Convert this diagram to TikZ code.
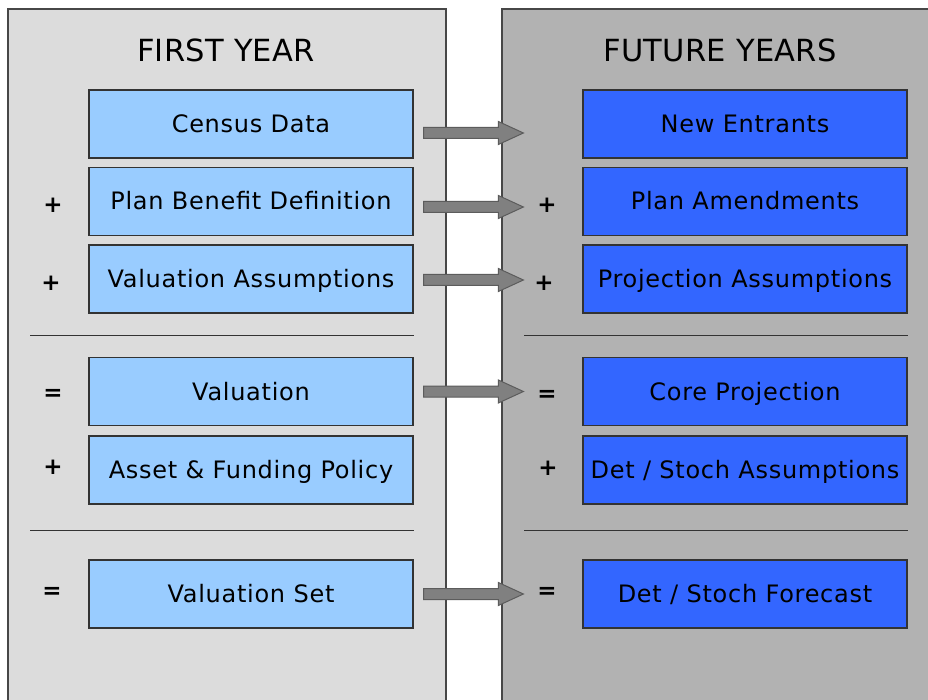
\documentclass[tikz,border=0pt]{standalone}
\usepackage{fontspec}
\setmainfont{DejaVu Sans}
\usetikzlibrary{calc}
\definecolor{panelL}{HTML}{DCDCDC}
\definecolor{panelR}{HTML}{B2B2B2}
\definecolor{boxL}{HTML}{99CCFF}
\definecolor{boxR}{HTML}{3366FF}
\definecolor{edgec}{HTML}{333333}
\definecolor{arrowc}{HTML}{808080}
\begin{document}
\begin{tikzpicture}[x=1pt,y=-1pt,
  panel/.style={draw=edgec!90, line width=1.2pt},
  boxbase/.style={draw=edgec, line width=1.2pt, minimum width=324pt, minimum height=68pt,
    inner sep=0pt, font=\fontsize{24}{28}\selectfont\addfontfeatures{LetterSpace=3}, text height=17pt, text depth=0pt},
  lbox/.style={boxbase, fill=boxL},
  rbox/.style={boxbase, fill=boxR},
  title/.style={anchor=base, font=\fontsize{30.5}{36}\selectfont\addfontfeatures{LetterSpace=1}},
  opmark/.style={font=\fontsize{23}{28}\bfseries, inner sep=0pt},
  sep/.style={draw=edgec, line width=1pt},
  fatarrow/.style={draw=edgec!80, fill=arrowc, line width=1pt, line join=miter,
    to path={(\tikztostart) -- ++(0,-5.5) -- ($(\tikztotarget)+(-25,-5.5)$) -- ($(\tikztotarget)+(-25,-11.5)$)
      -- (\tikztotarget) -- ($(\tikztotarget)+(-25,11.5)$) -- ($(\tikztotarget)+(-25,5.5)$)
      -- ($(\tikztostart)+(0,5.5)$) -- cycle}}
]
\useasboundingbox (0,0) rectangle (928,700);
\clip (0,0) rectangle (928,700);
\fill[white] (0,0) rectangle (928,700);
% panels
\filldraw[panel, fill=panelL] (8,9) rectangle (446,720);
\filldraw[panel, fill=panelR] (502,9) rectangle (940,720);
% titles
\node[title] (t1) at (226,62) {FIRST YEAR};
\node[title] (t2) at (720,62) {FUTURE YEARS};
% left boxes
\node[lbox] (l1) at (251,124) {Census Data};
\node[lbox] (l2) at (251,201.5) {Plan Benefit Definition};
\node[lbox] (l3) at (251,279) {Valuation Assumptions};
\node[lbox] (l4) at (251,391.5) {Valuation};
\node[lbox] (l5) at (251,470) {Asset \& Funding Policy};
\node[lbox] (l6) at (251,594) {Valuation Set};
% right boxes
\node[rbox] (r1) at (745,124) {New Entrants};
\node[rbox] (r2) at (745,201.5) {Plan Amendments};
\node[rbox] (r3) at (745,279) {Projection Assumptions};
\node[rbox] (r4) at (745,391.5) {Core Projection};
\node[rbox] (r5) at (745,470) {Det / Stoch Assumptions};
\node[rbox] (r6) at (745,594) {Det / Stoch Forecast};
% separators
\draw[sep] (30,335) -- (l3.east |- 0,335);
\draw[sep] (30,530) -- (l5.east |- 0,530);
\draw[sep] (524,335) -- (r3.east |- 0,335);
\draw[sep] (524,530) -- (r5.east |- 0,530);
% operator marks
\node[opmark] (ml2) at (53,205.5) {+};
\node[opmark] (ml3) at (51,283) {+};
\node[opmark] (ml4) at (53,395) {=};
\node[opmark] (ml5) at (53,467) {+};
\node[opmark] (ml6) at (52,593) {=};
\node[opmark] (mr2) at (547,205.5) {+};
\node[opmark] (mr3) at (544,283) {+};
\node[opmark] (mr4) at (547,396) {=};
\node[opmark] (mr5) at (548,468) {+};
\node[opmark] (mr6) at (547,593) {=};
% arrows
\draw[fatarrow] ($(l1.east)+(10,9)$) to ($(r1.west)+(-59,9)$);
\draw[fatarrow] ($(l2.east)+(10,5.5)$) to ($(r2.west)+(-59,5.5)$);
\draw[fatarrow] ($(l3.east)+(10,1)$) to ($(r3.west)+(-59,1)$);
\draw[fatarrow] ($(l4.east)+(10,0)$) to ($(r4.west)+(-59,0)$);
\draw[fatarrow] ($(l6.east)+(10,0)$) to ($(r6.west)+(-59,0)$);
\end{tikzpicture}
\end{document}
